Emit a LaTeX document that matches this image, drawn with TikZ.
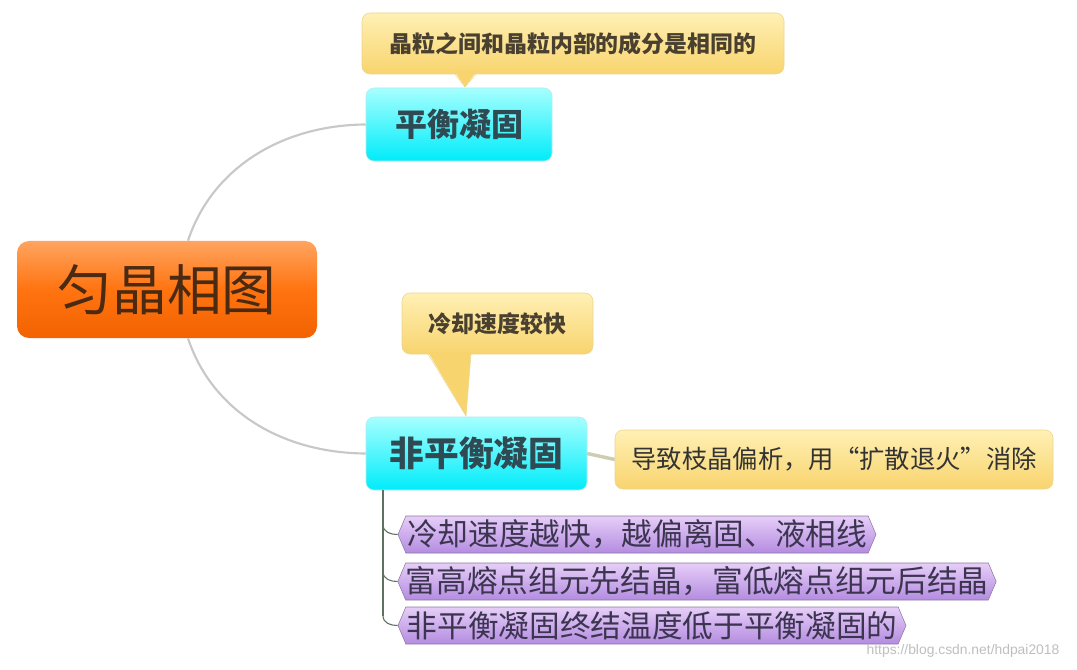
\documentclass[tikz,border=0pt]{standalone}
\usepackage{fontspec}
\setmainfont{Noto Sans CJK SC}
\newfontfamily\wmfont{Liberation Sans}
\usetikzlibrary{shapes.symbols,calc}
\definecolor{rootTop}{HTML}{FFA460}
\definecolor{rootMid}{HTML}{FF7410}
\definecolor{rootBot}{HTML}{F26200}
\definecolor{rootText}{HTML}{4B2A12}
\definecolor{cyTop}{HTML}{A6FFFF}
\definecolor{cyBot}{HTML}{00ECFA}
\definecolor{cyText}{HTML}{2F4A52}
\definecolor{yeTop}{HTML}{FFF0B4}
\definecolor{yeBot}{HTML}{F8D46E}
\definecolor{yeLine}{HTML}{EED58C}
\definecolor{yeText}{HTML}{4A4030}
\definecolor{puTop}{HTML}{E6CEF8}
\definecolor{puBot}{HTML}{B48CE0}
\definecolor{puLine}{HTML}{8C7AA0}
\definecolor{puText}{HTML}{3C3550}
\definecolor{linkGray}{HTML}{C8C8C8}
\definecolor{trunkCol}{HTML}{5E7060}
\begin{document}
\begin{tikzpicture}[x=0.75pt,y=-0.75pt,
  rootbox/.style={rounded corners=9pt, top color=rootTop, bottom color=rootBot, middle color=rootMid,
    minimum width=225pt, minimum height=72.75pt, inner sep=0pt, text=rootText,
    font=\fontsize{41}{45}\selectfont},
  cybox/.style={rounded corners=6pt, top color=cyTop, bottom color=cyBot, draw=cyBot!80!black!30,
    minimum height=54.75pt, inner sep=0pt, text=cyText, font=\bfseries},
  notebox/.style={rounded corners=6pt, top color=yeTop, bottom color=yeBot, draw=yeLine,
    minimum height=45.75pt, inner sep=0pt, text=yeText},
  tailfill/.style={fill=yeBot, draw=none},
  tailline/.style={draw=yeLine},
  itembox/.style={signal, signal to=east and west, signal from=nowhere, signal pointer angle=134,
    top color=puTop, bottom color=puBot, draw=puLine, minimum height=27.75pt, inner sep=0pt,
    text=puText, font=\fontsize{23}{25}\selectfont},
  link/.style={draw=linkGray, line width=1.6pt},
  trunk/.style={draw=trunkCol, line width=0.8pt}
]
\useasboundingbox[fill=white] (0,0) rectangle (1077,670);

% nodes
\node[rootbox] (root) at (167,289.5) {匀晶相图};
\node[cybox, minimum width=139.5pt, font=\bfseries\fontsize{24}{26}\selectfont] (eq) at (459,124.5) {平衡凝固};
\node[cybox, minimum width=165.75pt, font=\bfseries\fontsize{26}{28}\selectfont] (neq) at (476.5,453.5) {非平衡凝固};

% callout 1
\node[notebox, minimum width=316.5pt] (n1) at (573,43.5) {};
\fill[tailfill] (455,72) -- (465,87) -- (476,72) -- cycle;
\draw[tailline] (455,74) -- (465,87) -- (476,74);
\node[text=yeText, font=\bfseries\fontsize{17.2}{19}\selectfont] (n1t) at (n1.center) {晶粒之间和晶粒内部的成分是相同的};

% callout 2
\node[notebox, minimum width=143.25pt] (n2) at (497.5,323.5) {};
\fill[tailfill] (428,352) -- (466,416) -- (471,352) -- cycle;
\draw[tailline] (428,354) -- (466,416) -- (471,354);
\node[text=yeText, font=\bfseries\fontsize{17.2}{19}\selectfont] (n2t) at (n2.center) {冷却速度较快};

% callout 3
\node[notebox, minimum width=328.5pt, minimum height=44.25pt, font=\fontsize{19}{21}\selectfont, text=black!80] (n3) at (834,459.5) {导致枝晶偏析，用“扩散退火”消除};

% items
\node[itembox, minimum width=358.5pt] (i1) at (637,534.5) {冷却速度越快，越偏离固、液相线};
\node[itembox, minimum width=448.5pt] (i2) at (697,581.5) {富高熔点组元先结晶，富低熔点组元后结晶};
\node[itembox, minimum width=381pt] (i3) at (652,625.5) {非平衡凝固终结温度低于平衡凝固的};

% connectors
\draw[link] ($(root.north)+(21,0)$) .. controls (212,168) and (282,125) .. (eq.west);
\draw[link] ($(root.south)+(21,0)$) .. controls (212,411) and (282,453) .. (neq.west);
\draw[draw=linkGray!90!yellow, line width=2.6pt] (neq.east) -- (n3.west);

\coordinate (tr) at (383,490);
\draw[trunk] (tr) -- ($(tr |- i3.west)+(0,-10)$);
\foreach \i in {i1,i2,i3}{
  \draw[trunk] ($(tr |- \i.west)+(0,-10)$) .. controls ($(tr |- \i.west)+(0,-2)$) and ($(tr |- \i.west)+(8,0)$) .. (\i.west);
}

% watermark
\node[text=black!25, font=\wmfont\fontsize{10.4}{12}\selectfont] (wm) at (963,651) {https://blog.csdn.net/hdpai2018};
\end{tikzpicture}
\end{document}
